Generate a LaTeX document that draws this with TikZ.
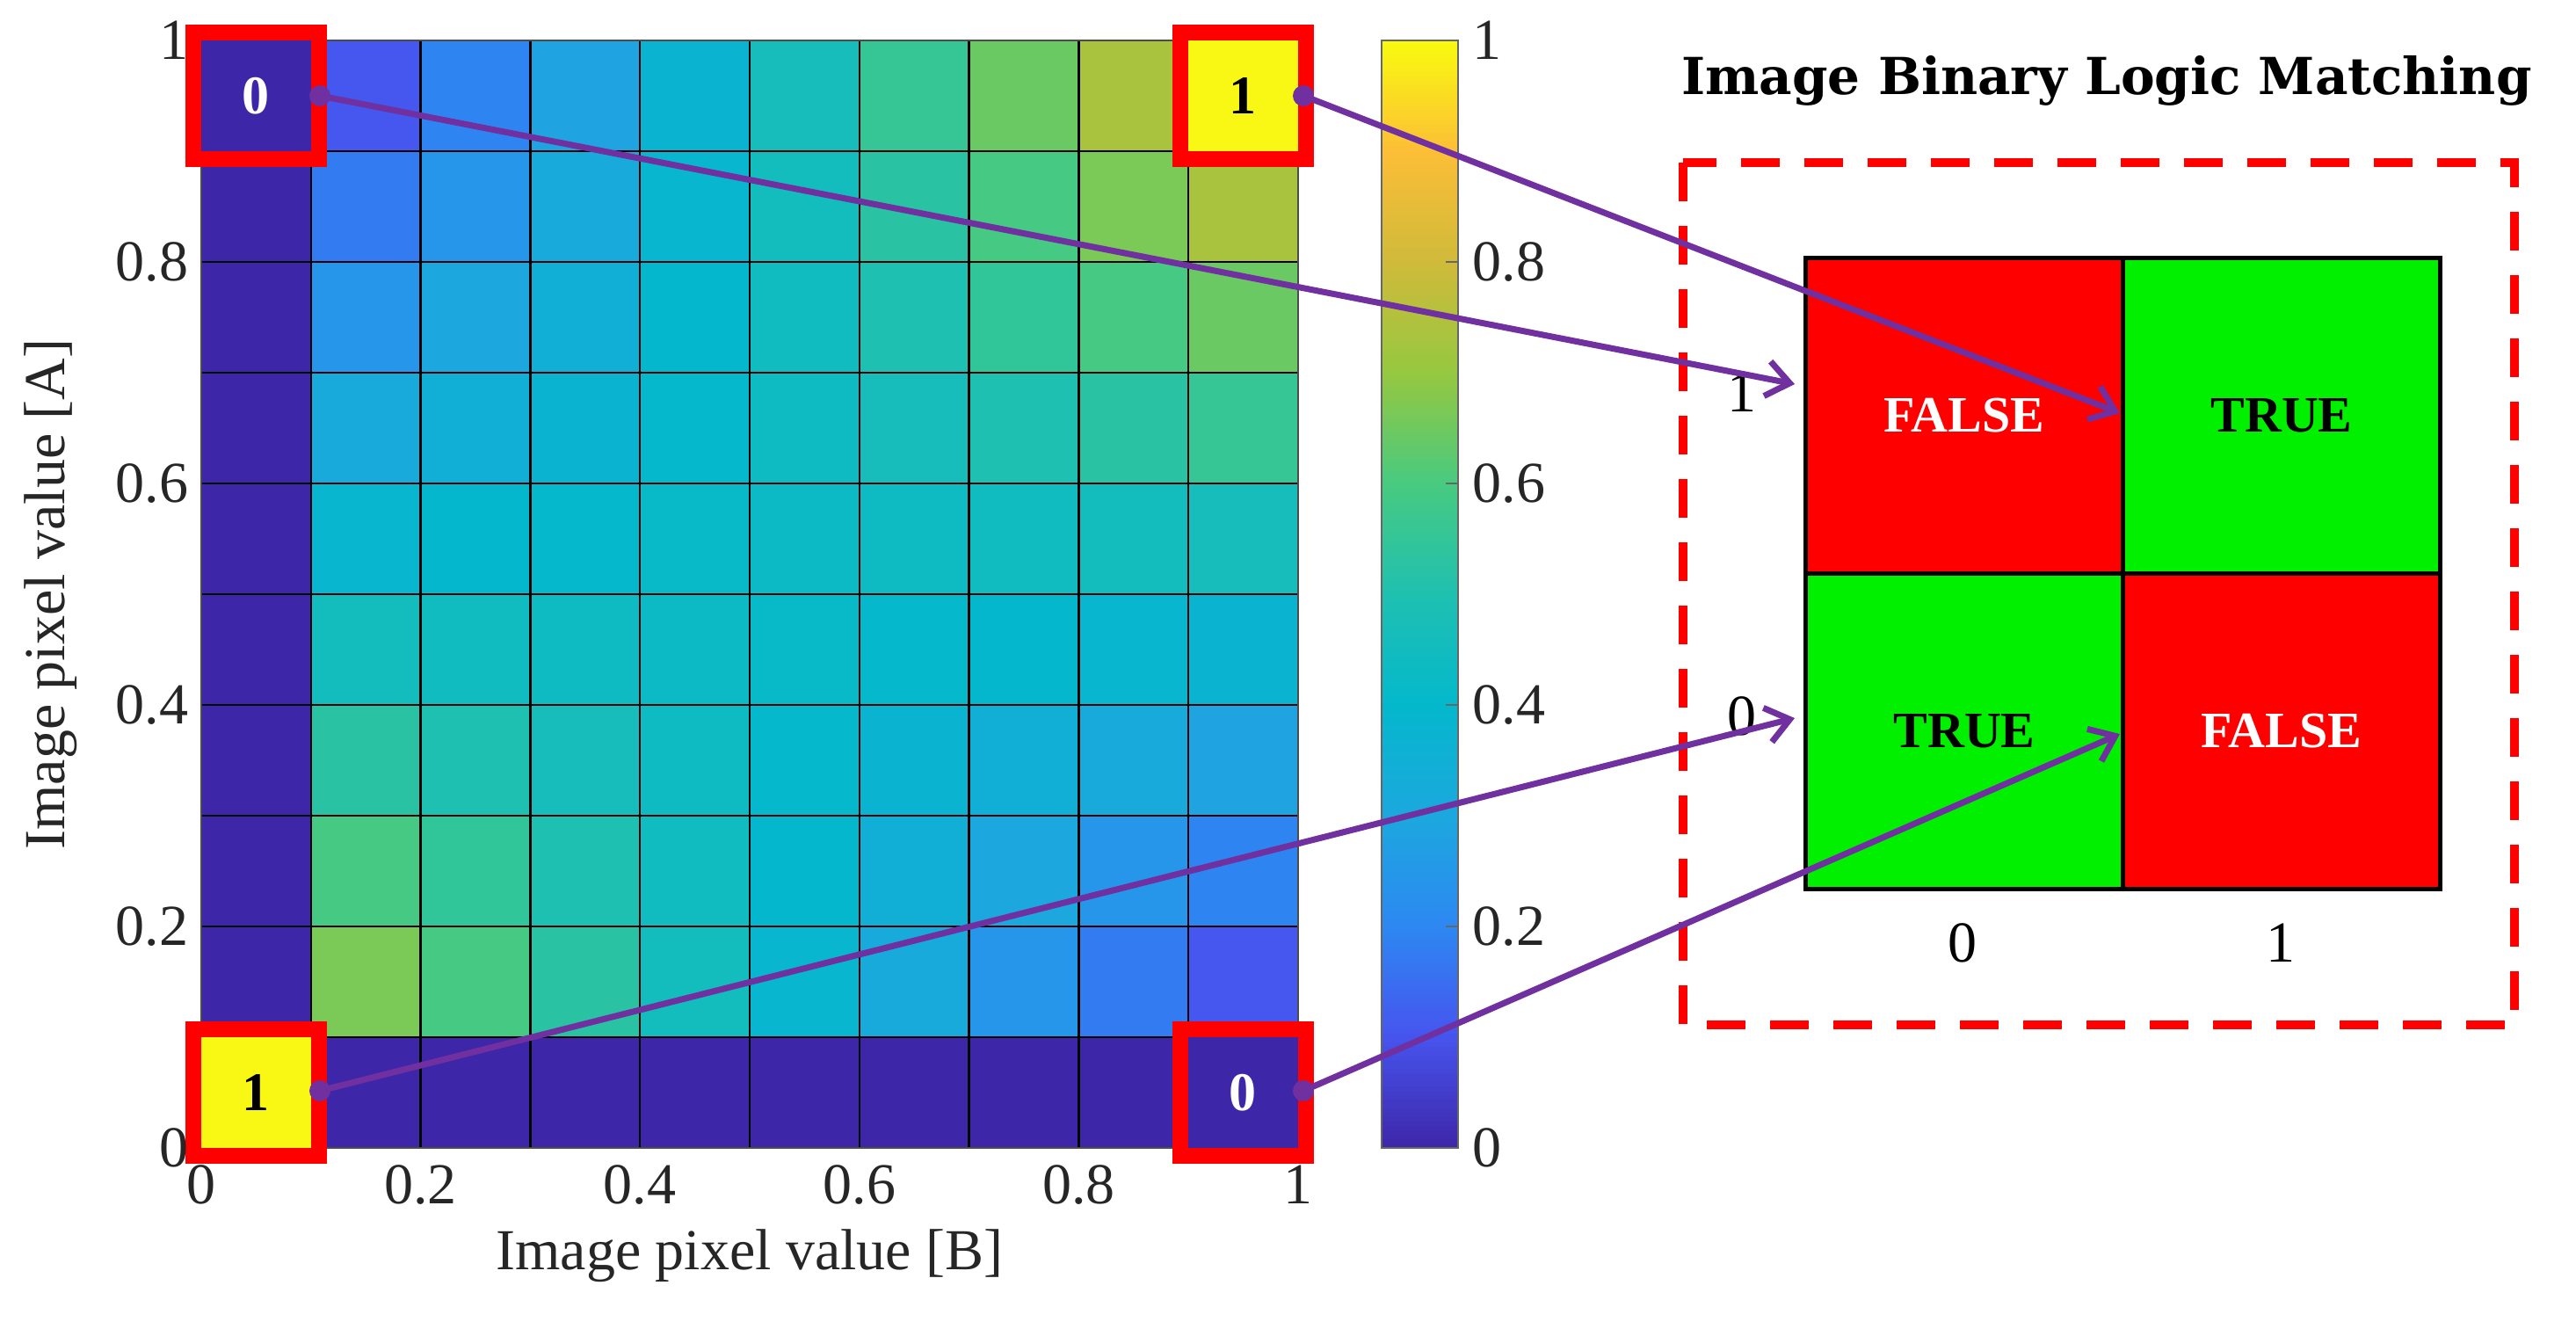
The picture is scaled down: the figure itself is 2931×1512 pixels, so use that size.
\documentclass[tikz,border=0pt]{standalone}
\usepackage{fontspec}
\setmainfont{Liberation Serif}
\newfontfamily\titlefont{DejaVu Serif}
\usetikzlibrary{arrows.meta}
\definecolor{p0}{RGB}{62,38,168}
\definecolor{p1}{RGB}{70,84,238}
\definecolor{p2}{RGB}{45,136,242}
\definecolor{p3}{RGB}{28,168,222}
\definecolor{p4}{RGB}{4,184,204}
\definecolor{p5}{RGB}{31,192,176}
\definecolor{p6}{RGB}{72,202,128}
\definecolor{p7}{RGB}{150,200,64}
\definecolor{p8}{RGB}{208,186,58}
\definecolor{p9}{RGB}{252,190,55}
\definecolor{p10}{RGB}{249,251,14}
\definecolor{pyel}{RGB}{248,248,20}
\definecolor{purp}{RGB}{112,48,160}
\definecolor{tred}{RGB}{255,0,0}
\definecolor{tgreen}{RGB}{0,240,0}
\tikzset{
  tick/.style={font=\fontsize{66}{70}\selectfont, text=black!85},
  redbox/.style={draw=tred, line width=18pt},
  link/.style={draw=purp, line width=7pt, -{Straight Barb[length=26pt,width=40pt,line width=7pt]}},
  dotn/.style={circle, fill=purp, inner sep=0pt, minimum size=24pt},
  tcell/.style={draw=black, line width=5pt, minimum width=361pt, minimum height=359pt, font=\fontsize{58}{60}\selectfont\bfseries},
  boxlab/.style={font=\fontsize{62}{66}\selectfont\bfseries},
}
\begin{document}
\begin{tikzpicture}[x=1pt,y=-1pt]
\useasboundingbox (0,0) rectangle (2931,1512);
% heatmap
\foreach \r in {0,...,9}{
  \foreach \c in {0,...,9}{
    \pgfmathsetmacro{\A}{(\r+0.5)/10}
    \pgfmathsetmacro{\B}{(\c+0.5)/10}
    \pgfmathsetmacro{\v}{(\r==0 || \c==0) ? 0 : max(0,\A*\B+(1-\A)*(1-\B)-0.08)}
    \pgfmathtruncatemacro{\k}{min(9,floor(\v*10))}
    \pgfmathtruncatemacro{\nk}{\k+1}
    \pgfmathtruncatemacro{\t}{round((\v*10-\k)*100)}
    \colorlet{cellc}{p\nk!\t!p\k}
    \fill[cellc] (229+\c*124.8,1306-\r*126) rectangle ++(124.8,-126);
  }
}
\foreach \i in {1,...,9}{
  \draw[black, line width=2.5pt] (229+\i*124.8,46) -- (229+\i*124.8,1306);
  \draw[black, line width=2.5pt] (229,46+\i*126) -- (1477,46+\i*126);
}
\draw[black!70, line width=2pt] (229,46) rectangle (1477,1306);
% corner boxes
\fill[p0] (229,46) rectangle (353.8,172);
\fill[pyel] (1352.2,46) rectangle (1477,172);
\fill[pyel] (229,1180) rectangle (353.8,1306);
\fill[p0] (1352.2,1180) rectangle (1477,1306);
\draw[redbox] (220,37) rectangle (363,181);
\draw[redbox] (1343,37) rectangle (1486,181);
\draw[redbox] (220,1171) rectangle (363,1315);
\draw[redbox] (1343,1171) rectangle (1486,1315);
\node[boxlab, text=white] (bTL) at (291,109) {0};
\node[boxlab, text=black] (bTR) at (1414,109) {1};
\node[boxlab, text=black] (bBL) at (291,1243) {1};
\node[boxlab, text=white] (bBR) at (1414,1243) {0};
% colorbar
\foreach \s in {0,...,251}{
  \pgfmathsetmacro{\v}{(\s+0.5)/252}
  \pgfmathtruncatemacro{\k}{min(9,floor(\v*10))}
  \pgfmathtruncatemacro{\nk}{\k+1}
  \pgfmathtruncatemacro{\t}{round((\v*10-\k)*100)}
  \colorlet{cellc}{p\nk!\t!p\k}
  \fill[cellc] (1572,1306-\s*5) rectangle (1659,1306-\s*5-5.6);
}
\draw[black!60, line width=2pt] (1572,46) rectangle (1659,1306);
% ticks
\foreach \i/\l in {0/0,1/0.2,2/0.4,3/0.6,4/0.8,5/1}{
  \node[tick, anchor=north] (xt\i) at (229+\i*249.6,1322) {\l};
  \node[tick, anchor=east] (yt\i) at (218,1306-\i*252) {\l};
  \node[tick, anchor=west] (ct\i) at (1672,1306-\i*252) {\l};
  \draw[black!60, line width=2pt] (1659,1306-\i*252) -- ++(-14,0);
}
\node[tick, anchor=north] (xl) at (853,1395) {Image pixel value [B]};
\node[tick, rotate=90] (yl) at (58,676) {Image pixel value [A]};
% right panel
\node[font=\titlefont\bfseries\fontsize{58}{64}\selectfont] (title) at (2397,92) {Image Binary Logic Matching};
\draw[tred, line width=10pt, dash pattern=on 44pt off 28pt] (1915,185) rectangle (2861,1166);
\node[tcell, fill=tred, text=white] (c10) at (2235,473) {FALSE};
\node[tcell, fill=tgreen, text=black] (c11) at (2596,473) {TRUE};
\node[tcell, fill=tgreen, text=black] (c00) at (2235,832) {TRUE};
\node[tcell, fill=tred, text=white] (c01) at (2596,832) {FALSE};
\node[tick, text=black] (r1) at (1982,447) {1};
\node[tick, text=black] (r0) at (1982,815) {0};
\node[tick, text=black] (k0) at (2233,1073) {0};
\node[tick, text=black] (k1) at (2595,1073) {1};
% links
\node[dotn] (d1) at (364,109) {};
\node[dotn] (d2) at (1483,109) {};
\node[dotn] (d3) at (364,1241) {};
\node[dotn] (d4) at (1483,1241) {};
\coordinate (t1) at (2042,437);
\coordinate (t2) at (2412,470);
\coordinate (t3) at (2042,817);
\coordinate (t4) at (2412,835);
\draw[link] (d1.center) -- (t1);
\draw[link] (d2.center) -- (t2);
\draw[link] (d3.center) -- (t3);
\draw[link] (d4.center) -- (t4);
\end{tikzpicture}
\end{document}
